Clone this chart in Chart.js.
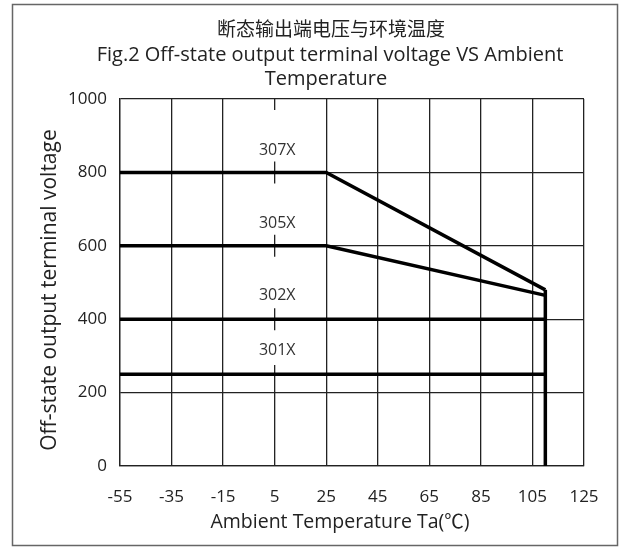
<!DOCTYPE html>
<html>
<head>
<meta charset="utf-8">
<script src="https://cdn.jsdelivr.net/npm/chart.js@4.4.1/dist/chart.umd.min.js"></script>
<style>
  body { margin: 0; background: #fff; }
  #wrap { width: 624px; height: 547px; position: relative; }
</style>
</head>
<body>
<div id="wrap"><canvas id="lineChart"></canvas></div>
<script>
// les valeurs
const xTicks = [-55, -35, -15, 5, 25, 45, 65, 85, 105, 125];
const yTicks = [0, 200, 400, 600, 800, 1000];
const seriesNames = ['307X', '305X', '302X', '301X'];
const tempPoints = [
  [-55, 25, 110],
  [-55, 25, 110],
  [-55, 110],
  [-55, 110]
];
const voltPoints = [
  [800, 800, 480],
  [600, 600, 465],
  [400, 400],
  [250, 250]
];
// limite verticale a 110°C
const limitTemp = [110, 110];
const limitVolt = [480, 0];
// petits traits reperes a 5°C (null = coupure)
const markTemp = [5, 5, 5, 5, 5, 5, 5, 5, 5, 5, 5, 5, 5, 5];
const markVolt = [1000, 970, null, 830, 770, null, 630, 570, null, 430, 370, null, 275, 0];
// position des etiquettes des series
const labelTemp = [6, 6, 6, 6];
const labelVolt = [861, 662, 465, 314];
// textes
const titleLines = ['断态输出端电压与环境温度', 'Fig.2 Off-state output terminal voltage VS Ambient', 'Temperature'];
const xTitle = 'Ambient Temperature Ta(℃)';
const yTitle = 'Off-state output terminal voltage';

const fontFam = '"Open Sans", "Noto Sans CJK SC", sans-serif';
const ink = '#222';

const toXY = (xs, ys) => xs.map((x, i) => ({ x: x, y: ys[i] }));

const datasets = seriesNames.map((name, i) => ({
  label: name,
  data: toXY(tempPoints[i], voltPoints[i]),
  borderColor: '#000',
  borderWidth: 3.5,
  pointRadius: 0,
  tension: 0
}));
datasets.push({
  label: 'limite',
  data: toXY(limitTemp, limitVolt),
  borderColor: '#000',
  borderWidth: 3.5,
  pointRadius: 0
});
datasets.push({
  label: 'repere',
  data: toXY(markTemp, markVolt),
  borderColor: ink,
  borderWidth: 1.3,
  pointRadius: 0,
  spanGaps: false
});

// cadre, titres et etiquettes 307X...
const decor = {
  id: 'decor',
  beforeDraw(chart) {
    const c = chart.ctx;
    c.save();
    c.fillStyle = '#fff';
    c.fillRect(0, 0, chart.width, chart.height);
    c.strokeStyle = '#666';
    c.lineWidth = 1.5;
    c.strokeRect(12.5, 4.5, 605, 541);
    c.restore();
  },
  afterDraw(chart) {
    const c = chart.ctx;
    const xs = chart.scales.x, ys = chart.scales.y;
    c.save();
    c.fillStyle = ink;
    c.textAlign = 'center';
    c.textBaseline = 'middle';
    // titre principal
    c.font = '19px ' + fontFam;
    c.fillText(titleLines[0], 331, 31);
    c.font = '20px ' + fontFam;
    c.fillText(titleLines[1], 330, 55);
    c.fillText(titleLines[2], 326, 79);
    // titres des axes
    c.font = '19.5px ' + fontFam;
    c.fillText(xTitle, 340, 522);
    c.save();
    c.translate(50, 290);
    c.rotate(-Math.PI / 2);
    c.font = '21px ' + fontFam;
    c.fillText(yTitle, 0, 0);
    c.restore();
    // etiquettes des series
    c.font = '16px ' + fontFam;
    c.fillStyle = '#333';
    seriesNames.forEach((name, i) => {
      c.fillText(name, xs.getPixelForValue(labelTemp[i]), ys.getPixelForValue(labelVolt[i]));
    });
    c.restore();
  }
};

const ctx = document.getElementById('lineChart').getContext('2d');
new Chart(ctx, {
  type: 'line',
  data: { datasets: datasets },
  options: {
    responsive: true,
    maintainAspectRatio: false,
    animation: false,
    layout: { padding: { left: 0, right: 40, top: 99, bottom: 0 } },
    plugins: {
      legend: { display: false },
      tooltip: { enabled: false },
      title: { display: false }
    },
    scales: {
      x: {
        type: 'linear',
        min: -55,
        max: 125,
        afterBuildTicks: s => { s.ticks = xTicks.map(v => ({ value: v })); },
        afterFit: s => { s.height = 81; },
        grid: {
          color: c => (c.tick && c.tick.value === 5) ? 'rgba(0,0,0,0)' : ink,
          lineWidth: 1.3,
          drawTicks: false
        },
        border: { color: ink, width: 1.3 },
        ticks: {
          color: ink, padding: 21, maxRotation: 0,
          font: { family: fontFam, size: 17 },
          callback: v => String(v)
        }
      },
      y: {
        min: 0,
        max: 1000,
        afterBuildTicks: s => { s.ticks = yTicks.map(v => ({ value: v })); },
        afterFit: s => { s.width = 120; },
        grid: { color: ink, lineWidth: 1.3, drawTicks: false },
        border: { color: ink, width: 1.3 },
        ticks: {
          color: ink, padding: 13,
          font: { family: fontFam, size: 17 },
          callback: v => String(v)
        }
      }
    }
  },
  plugins: [decor]
});
</script>
</body>
</html>
